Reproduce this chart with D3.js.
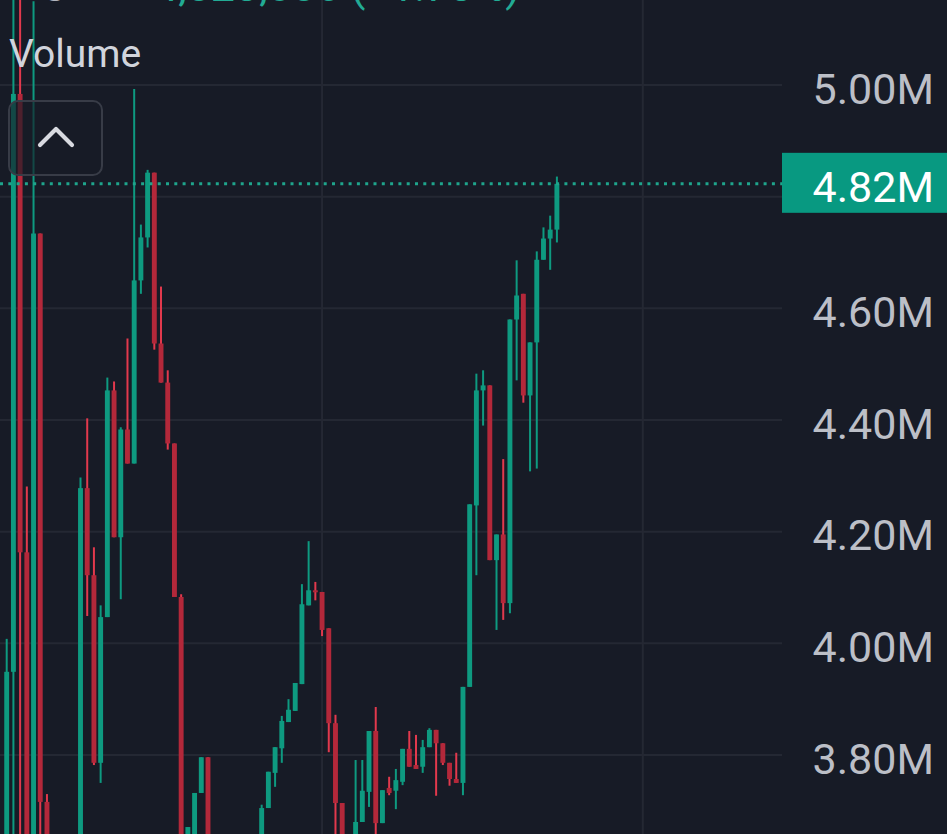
<!DOCTYPE html>
<html><head><meta charset="utf-8">
<script src="https://cdn.jsdelivr.net/npm/d3@7"></script>
<style>html,body{margin:0;padding:0;background:#171b26;overflow:hidden}</style>
</head><body><svg id="c" width="947" height="834"></svg>
<script>
// ---- data (values in millions) ----
const opens  = [3.600,3.949,4.984,4.163,3.590,4.734,3.716,3.600,3.560,3.600,3.580,3.620,4.278,4.122,3.786,4.047,4.453,4.190,4.383,4.322,4.650,4.727,4.843,4.537,4.467,4.358,4.083,3.620,3.640,3.732,3.796,3.620,3.580,3.600,3.570,3.610,3.590,3.620,3.620,3.705,3.768,3.812,3.859,3.879,3.927,4.068,4.095,4.092,4.027,3.857,3.714,3.620,3.620,3.680,3.734,3.843,3.678,3.741,3.736,3.752,3.811,3.782,3.779,3.814,3.845,3.821,3.786,3.757,3.750,3.922,4.247,4.453,4.462,4.149,4.195,4.072,4.580,4.626,4.444,4.539,4.687,4.725,4.741];
const highs  = [4.008,5.258,5.200,4.281,5.150,4.734,3.730,3.630,3.620,3.640,3.630,4.297,4.403,4.172,4.068,4.476,4.469,4.387,4.546,4.993,4.750,4.848,4.843,4.639,4.489,4.358,4.088,3.671,3.732,3.796,3.796,3.640,3.620,3.630,3.620,3.640,3.630,3.640,3.711,3.770,3.814,3.870,3.900,3.929,4.106,4.183,4.110,4.092,4.027,3.872,3.714,3.640,3.791,3.791,3.843,3.886,3.737,3.761,3.775,3.811,3.843,3.836,3.827,3.848,3.845,3.821,3.786,3.804,3.922,4.249,4.483,4.489,4.462,4.195,4.330,4.580,4.686,4.626,4.539,4.702,4.745,4.766,4.836];
const lows   = [3.580,3.620,3.620,3.580,3.570,3.620,3.580,3.540,3.520,3.550,3.540,3.600,4.049,3.782,3.750,4.047,4.190,4.079,4.322,4.322,4.626,4.709,4.526,4.467,4.347,4.083,3.600,3.600,3.620,3.732,3.600,3.560,3.540,3.550,3.530,3.580,3.560,3.580,3.600,3.705,3.743,3.786,3.859,3.879,3.927,4.068,4.077,4.013,3.805,3.620,3.600,3.570,3.600,3.680,3.707,3.620,3.678,3.728,3.703,3.746,3.779,3.775,3.768,3.814,3.727,3.782,3.745,3.750,3.728,3.922,4.122,4.390,4.149,4.024,4.042,4.054,4.471,4.431,4.308,4.313,4.687,4.669,4.718];
const closes = [3.949,4.984,4.163,3.600,4.734,3.716,3.600,3.560,3.600,3.580,3.620,4.278,4.122,3.786,4.047,4.453,4.190,4.383,4.322,4.650,4.727,4.843,4.537,4.467,4.358,4.083,3.620,3.671,3.732,3.796,3.620,3.580,3.600,3.570,3.610,3.590,3.620,3.600,3.705,3.770,3.814,3.861,3.881,3.929,4.070,4.095,4.092,4.024,3.857,3.714,3.620,3.600,3.680,3.736,3.843,3.678,3.737,3.732,3.755,3.811,3.779,3.775,3.814,3.845,3.821,3.786,3.757,3.750,3.922,4.249,4.453,4.462,4.149,4.195,4.072,4.580,4.623,4.444,4.539,4.687,4.725,4.741,4.823];
const priceTicks = [3.8, 4.0, 4.2, 4.4, 4.6, 4.8, 5.0];
const timeGridIdx = [47, 94.8];
const paneTitle = "Volume";
const legendLabel = "C";
const legendValue = "4,823,086";
const legendChange = "(+1.73%)";

// ---- drawing ----
const W = 947, H = 834, plotRight = 782;
const svg = d3.select("#c");
const C = {bg:"#171b26", grid:"#242833", up:"#0e9a80", upWick:"#0e9a80", down:"#b3283a", downWick:"#e2394d", axisText:"#bcbfc7", title:"#d1d4dc"};

svg.append("rect").attr("width", W).attr("height", H).attr("fill", C.bg);

const n = closes.length;
const data = d3.range(n).map(i => ({i, o: opens[i], h: highs[i], l: lows[i], c: closes[i]}));

const x = d3.scaleLinear().domain([0, n - 1]).range([6.7, 556.9]);
const y = d3.scaleLinear().domain([3.8, 5.0]).range([755, 85]);
const last = closes[n - 1];

// grid
const grid = svg.append("g");
grid.selectAll("line.h").data(priceTicks).join("line")
  .attr("x1", 0).attr("x2", plotRight)
  .attr("y1", d => y(d)).attr("y2", d => y(d))
  .attr("stroke", C.grid).attr("stroke-width", 2);
grid.selectAll("line.v").data(timeGridIdx).join("line")
  .attr("x1", d => x(d)).attr("x2", d => x(d))
  .attr("y1", 0).attr("y2", H)
  .attr("stroke", C.grid).attr("stroke-width", 2);

// candles
const plot = svg.append("g");
const bodyW = 4.9, wickW = 2;
const up = d => d.c >= d.o;
plot.selectAll("line.wick").data(data).join("line")
  .attr("x1", d => x(d.i)).attr("x2", d => x(d.i))
  .attr("y1", d => y(d.h)).attr("y2", d => y(d.l))
  .attr("stroke", d => up(d) ? C.upWick : C.downWick)
  .attr("stroke-width", wickW);
plot.selectAll("rect.body").data(data).join("rect")
  .attr("x", d => x(d.i) - bodyW / 2)
  .attr("width", bodyW)
  .attr("y", d => y(Math.max(d.o, d.c)))
  .attr("height", d => Math.max(2, Math.abs(y(d.o) - y(d.c))))
  .attr("fill", d => up(d) ? C.up : C.down);

// current value line
svg.append("line")
  .attr("x1", 0).attr("x2", plotRight)
  .attr("y1", y(last)).attr("y2", y(last))
  .attr("stroke", "#1fa58c").attr("stroke-width", 3)
  .attr("stroke-dasharray", "3 5.3");

// price axis (labels hidden where the last-value tag sits)
const axis = d3.axisRight(y).tickValues(priceTicks.filter(t => Math.abs(y(t) - y(last)) > 40)).tickSize(0)
  .tickFormat(d => d.toFixed(2) + "M");
const ag = svg.append("g").attr("transform", `translate(934,0)`).call(axis);
ag.select(".domain").remove();
ag.selectAll("text")
  .attr("x", 0).attr("dy", "0.42em")
  .attr("text-anchor", "end")
  .attr("fill", C.axisText)
  .style("font-family", "Roboto, sans-serif")
  .style("font-size", "43px");

// last value label
svg.append("rect").attr("x", plotRight).attr("y", y(last) - 31)
  .attr("width", W - plotRight).attr("height", 60).attr("fill", "#089981");
svg.append("text").attr("x", 934).attr("y", y(last)).attr("dy", "0.42em")
  .attr("text-anchor", "end").attr("fill", "#ffffff")
  .style("font-family", "Roboto, sans-serif").style("font-size", "43px")
  .text(last.toFixed(2) + "M");

// partially visible legend at the very top (scrolled off the top edge)
svg.append("text").attr("x", 40).attr("y", 1).attr("fill", "#b2b5be")
  .style("font-family", "Roboto, sans-serif").style("font-size", "43px").text(legendLabel);
const lg = svg.append("text").attr("x", 154).attr("y", 1).attr("fill", "#22ab94")
  .style("font-family", "Roboto, sans-serif").style("font-size", "43px");
lg.append("tspan").text(legendValue + " ");
lg.append("tspan").text(legendChange);

// pane title
svg.append("text").attr("x", 9).attr("y", 67).attr("fill", C.title)
  .style("font-family", "Roboto, sans-serif").style("font-size", "39px")
  .text(paneTitle);

// collapse button
svg.append("rect").attr("x", 9).attr("y", 101).attr("width", 93).attr("height", 74)
  .attr("rx", 9).attr("fill", C.bg).attr("fill-opacity", 0.65)
  .attr("stroke", "#383c47").attr("stroke-width", 2);
svg.append("path").attr("d", "M40,145 L56,129 L72,145")
  .attr("fill", "none").attr("stroke", "#d8dae0").attr("stroke-width", 4.2)
  .attr("stroke-linecap", "round").attr("stroke-linejoin", "round");
</script></body></html>
